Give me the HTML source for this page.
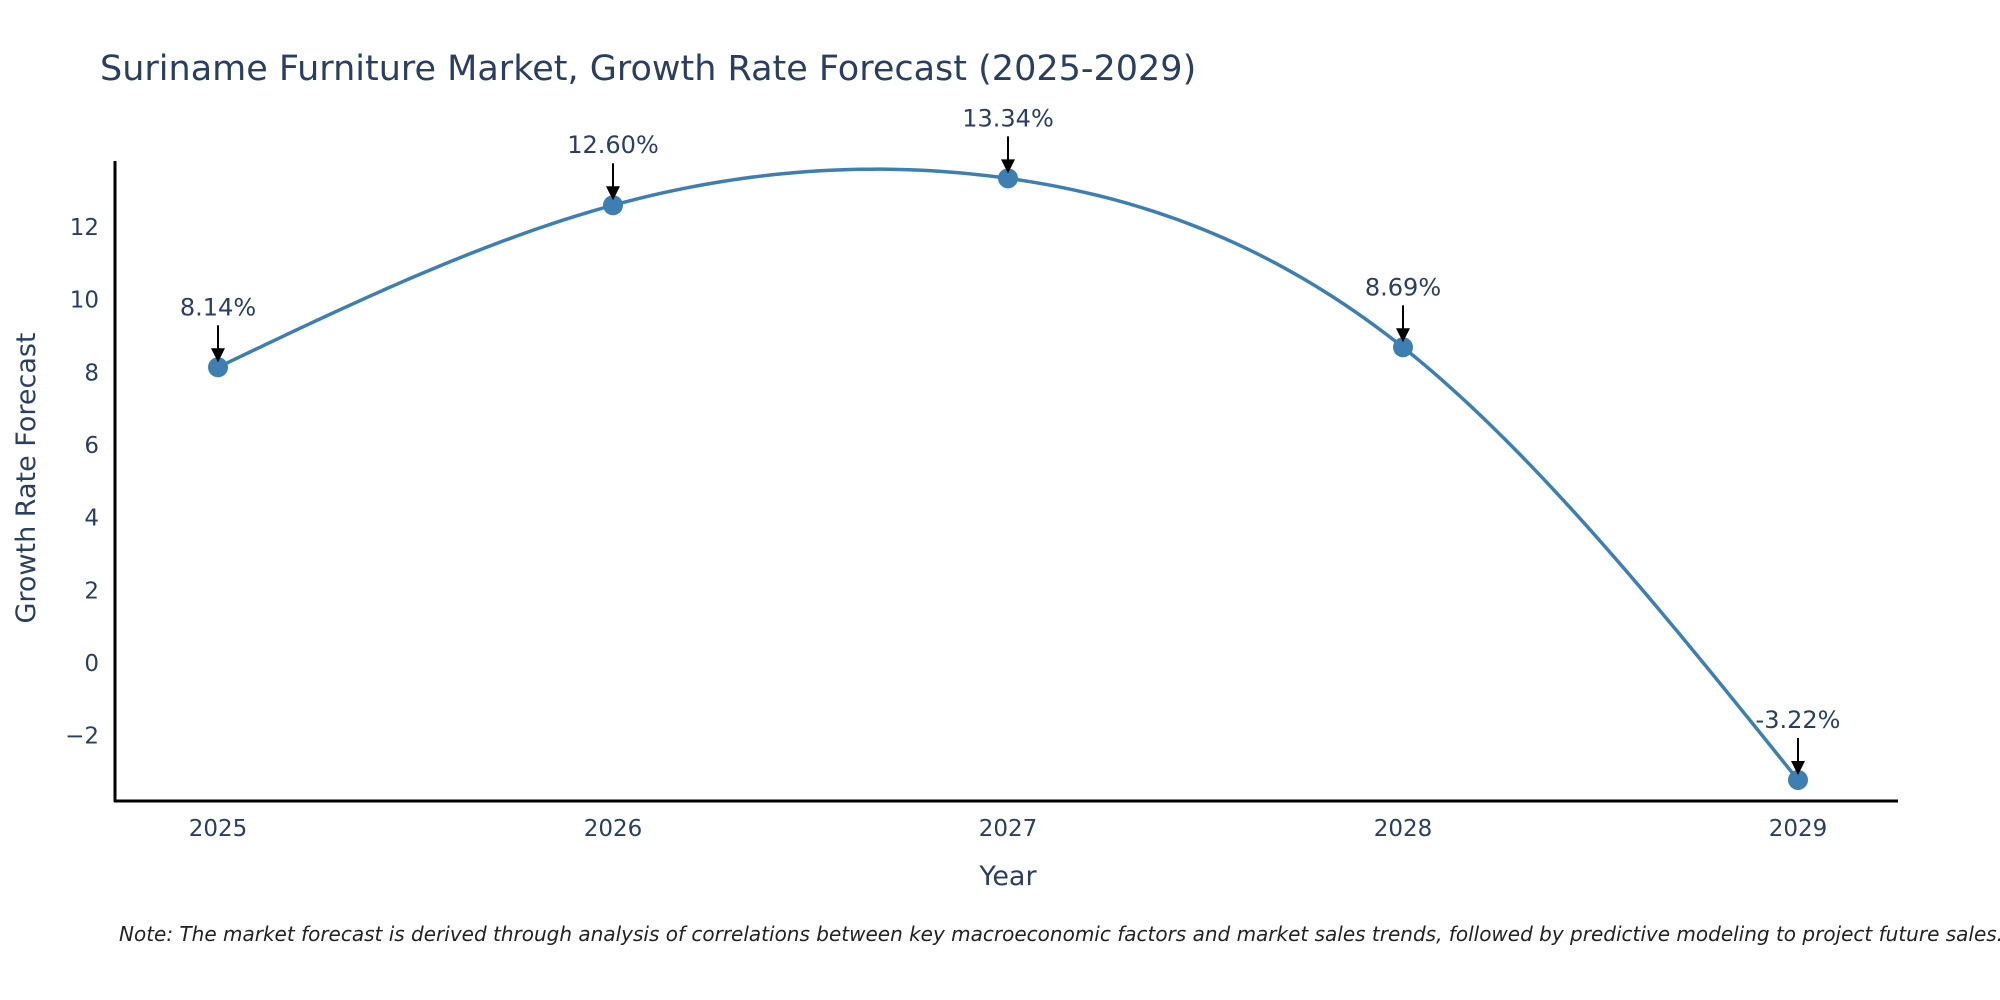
<!DOCTYPE html>
<html><head><meta charset="utf-8"><style>
html,body{margin:0;padding:0;background:#fff;}
svg{display:block;font-family:"DejaVu Sans","Liberation Sans",sans-serif;}
</style></head><body>
<svg id="chart" width="2000" height="1000" viewBox="0 0 2000 1000">
<text x="100" y="80" font-size="35" fill="#2a3f5f">Suriname Furniture Market, Growth Rate Forecast (2025-2029)</text>
<g id="yticks"></g>
<g id="xticks"></g>
<line x1="115" y1="161" x2="115" y2="802" stroke="#000" stroke-width="3"/>
<line x1="114" y1="801" x2="1898" y2="801" stroke="#000" stroke-width="3"/>
<path id="line" fill="none" stroke="#3d7fb0" stroke-width="3.5"/>
<g id="points"></g>
<g id="annots"></g>
<text x="1008" y="885" font-size="27" fill="#2a3f5f" text-anchor="middle">Year</text>
<text transform="translate(35,478) rotate(-90)" font-size="27" fill="#2a3f5f" text-anchor="middle">Growth Rate Forecast</text>
<text x="119" y="941" font-size="20" font-style="italic" fill="#222">Note: The market forecast is derived through analysis of correlations between key macroeconomic factors and market sales trends, followed by predictive modeling to project future sales.</text>
</svg>
<script>
const years = [2025, 2026, 2027, 2028, 2029];
const values = [8.14, 12.60, 13.34, 8.69, -3.22];
const labels = ["8.14%", "12.60%", "13.34%", "8.69%", "-3.22%"];
const yTicks = [-2, 0, 2, 4, 6, 8, 10, 12];
const yTickLabels = ["\u22122", "0", "2", "4", "6", "8", "10", "12"];

const NS = "http://www.w3.org/2000/svg";
function xs(yr){ return 218 + (yr - 2025) * 395; }
function ys(v){ return 663 - v * 36.33; }
function mk(tag, attrs, parent){ const e = document.createElementNS(NS, tag); for (const k in attrs) e.setAttribute(k, attrs[k]); parent.appendChild(e); return e; }

const yg = document.getElementById("yticks");
yTicks.forEach((t, i) => {
  const e = mk("text", {x: 99, y: ys(t) + 8, "font-size": 23, fill: "#2a3f5f", "text-anchor": "end"}, yg);
  
  
  e.textContent = yTickLabels[i];
});
const xg = document.getElementById("xticks");
years.forEach(y => {
  const e = mk("text", {x: xs(y), y: 836, "font-size": 23, fill: "#2a3f5f", "text-anchor": "middle"}, xg);
  
  
  e.textContent = String(y);
});

// natural cubic spline through data
const n = years.length;
const h = [], al = [0], l = [1], mu = [0], z = [0], c = new Array(n).fill(0), b = [], dd = [];
for (let i = 0; i < n - 1; i++) h.push(years[i+1] - years[i]);
for (let i = 1; i < n - 1; i++) al.push(3/h[i]*(values[i+1]-values[i]) - 3/h[i-1]*(values[i]-values[i-1]));
for (let i = 1; i < n - 1; i++) { l[i] = 2*(years[i+1]-years[i-1]) - h[i-1]*mu[i-1]; mu[i] = h[i]/l[i]; z[i] = (al[i]-h[i-1]*z[i-1])/l[i]; }
z[n-1] = 0;
for (let j = n - 2; j >= 0; j--) { c[j] = z[j] - mu[j]*c[j+1]; b[j] = (values[j+1]-values[j])/h[j] - h[j]*(c[j+1]+2*c[j])/3; dd[j] = (c[j+1]-c[j])/(3*h[j]); }
let d = "";
for (let j = 0; j < n - 1; j++) {
  for (let k = 0; k <= 40; k++) {
    if (j > 0 && k === 0) continue;
    const t = h[j] * k / 40;
    const v = values[j] + b[j]*t + c[j]*t*t + dd[j]*t*t*t;
    d += (d ? " L" : "M") + xs(years[j] + t).toFixed(2) + "," + ys(v).toFixed(2);
  }
}
document.getElementById("line").setAttribute("d", d);

const P = years.map((y, i) => [xs(y), ys(values[i])]);
const pg = document.getElementById("points");
const ag = document.getElementById("annots");
P.forEach((p, i) => {
  const cc = mk("circle", {cx: p[0], cy: p[1], r: 10, fill: "#3d7fb0"}, pg);
  
  
  mk("line", {x1: p[0], y1: p[1] - 42, x2: p[0], y2: p[1] - 16, stroke: "#000", "stroke-width": 2}, ag);
  const a = mk("polygon", {points: (p[0]-7)+","+(p[1]-19)+" "+(p[0]+7)+","+(p[1]-19)+" "+p[0]+","+(p[1]-5), fill: "#000"}, ag);
  
  
  const t = mk("text", {x: p[0], y: p[1] - 52, "font-size": 24, fill: "#2a3f5f", "text-anchor": "middle"}, ag);
  
  
  t.textContent = labels[i];
});
</script>
</body></html>
